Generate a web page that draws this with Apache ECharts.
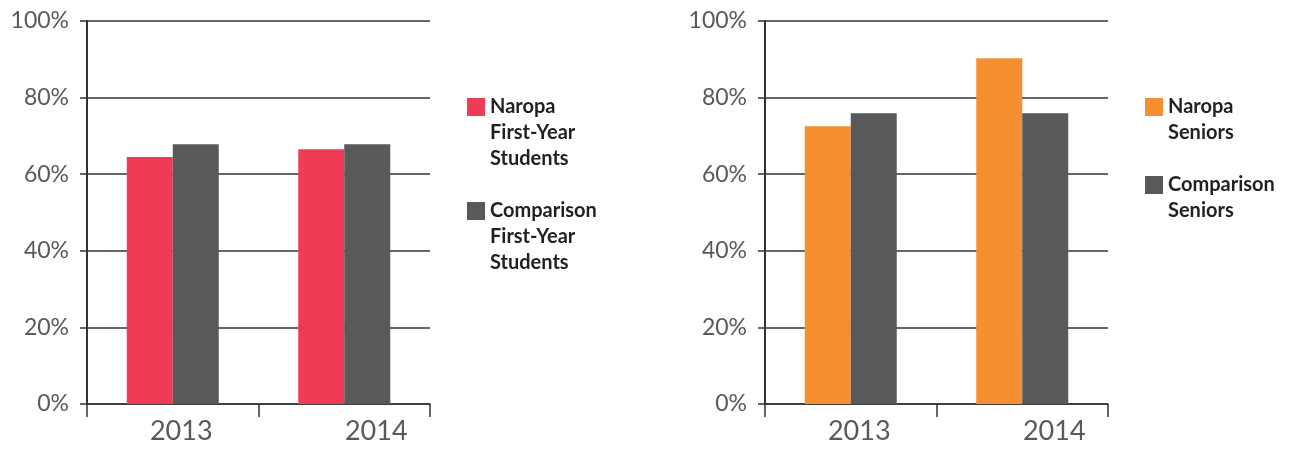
<!DOCTYPE html>
<html>
<head>
<meta charset="utf-8">
<script src="https://cdn.jsdelivr.net/npm/echarts@6/dist/echarts.min.js"></script>
<style>html,body{margin:0;padding:0;background:#fff}#c{width:1290px;height:449px}</style>
</head>
<body>
<div id="c"></div>
<script>
const categories = ['2013', '2014'];
const yTicks = [0, 20, 40, 60, 80, 100];
const naropaFirstYear = [64.5, 66.5];
const comparisonFirstYear = [67.8, 67.8];
const naropaSeniors = [72.5, 90.3];
const comparisonSeniors = [75.9, 75.9];
const seriesNames = {
  nfy: 'Naropa\nFirst-Year\nStudents',
  cfy: 'Comparison\nFirst-Year\nStudents',
  ns: 'Naropa\nSeniors',
  cs: 'Comparison\nSeniors'
};

const RED = '#EF3B55', GRAY = '#58595B', ORANGE = '#F58F31';
const TXT = '#58595B', LINE = '#333333';
const FONT = 'Lato';

function xAxis(gi) {
  return {
    type: 'category', gridIndex: gi, data: categories,
    axisLine: { lineStyle: { color: LINE, width: 1.5 } },
    axisTick: { show: true, length: 13, lineStyle: { color: LINE, width: 1.5 } },
    axisLabel: {
      margin: 14,
      formatter: function (v, i) { return '{l' + i + '|' + v + '}'; },
      rich: {
        l0: { fontSize: 27, color: TXT, fontFamily: FONT, padding: [0, 0, 0, 17] },
        l1: { fontSize: 27, color: TXT, fontFamily: FONT, padding: [0, 0, 0, 64] }
      }
    }
  };
}
function yAxis(gi) {
  return {
    type: 'value', gridIndex: gi, min: yTicks[0], max: yTicks[yTicks.length - 1], interval: 20,
    axisLine: { show: true, lineStyle: { color: LINE, width: 2 } },
    axisTick: { show: true, length: 7, lineStyle: { color: LINE, width: 1.5 } },
    splitLine: { show: true, lineStyle: { color: LINE, width: 1.5 } },
    axisLabel: { margin: 18, fontSize: 23, color: TXT, fontFamily: FONT, formatter: '{value}%' }
  };
}
function bar(name, data, color, gi) {
  return {
    type: 'bar', name: name, data: data, xAxisIndex: gi, yAxisIndex: gi,
    barWidth: 46, barGap: '0%', itemStyle: { color: color }, silent: true
  };
}
const legendText = { fontSize: 20, fontWeight: 'bold', color: '#231F20', fontFamily: FONT, lineHeight: 26 };
// prepend (lines-1) blank lines so the first line sits level with the icon
function topAlign(name) {
  const n = name.split('\n').length;
  return '\n'.repeat(n - 1) + name;
}

const chart = echarts.init(document.getElementById('c'), null, { renderer: 'canvas' });
chart.setOption({
  animation: false,
  grid: [
    { left: 87, right: 860, top: 21, bottom: 45 },
    { left: 765, right: 182, top: 21, bottom: 45 }
  ],
  xAxis: [xAxis(0), xAxis(1)],
  yAxis: [yAxis(0), yAxis(1)],
  legend: [
    {
      data: [seriesNames.nfy, seriesNames.cfy], orient: 'vertical', left: 467, top: 42, padding: 0,
      itemGap: -26, itemWidth: 18, itemHeight: 18, icon: 'rect', selectedMode: false,
      formatter: topAlign, textStyle: legendText
    },
    {
      data: [seriesNames.ns, seriesNames.cs], orient: 'vertical', left: 1145, top: 68, padding: 0,
      itemGap: 0, itemWidth: 18, itemHeight: 18, icon: 'rect', selectedMode: false,
      formatter: topAlign, textStyle: legendText
    }
  ],
  series: [
    bar(seriesNames.nfy, naropaFirstYear, RED, 0),
    bar(seriesNames.cfy, comparisonFirstYear, GRAY, 0),
    bar(seriesNames.ns, naropaSeniors, ORANGE, 1),
    bar(seriesNames.cs, comparisonSeniors, GRAY, 1)
  ]
});
</script>
</body>
</html>
